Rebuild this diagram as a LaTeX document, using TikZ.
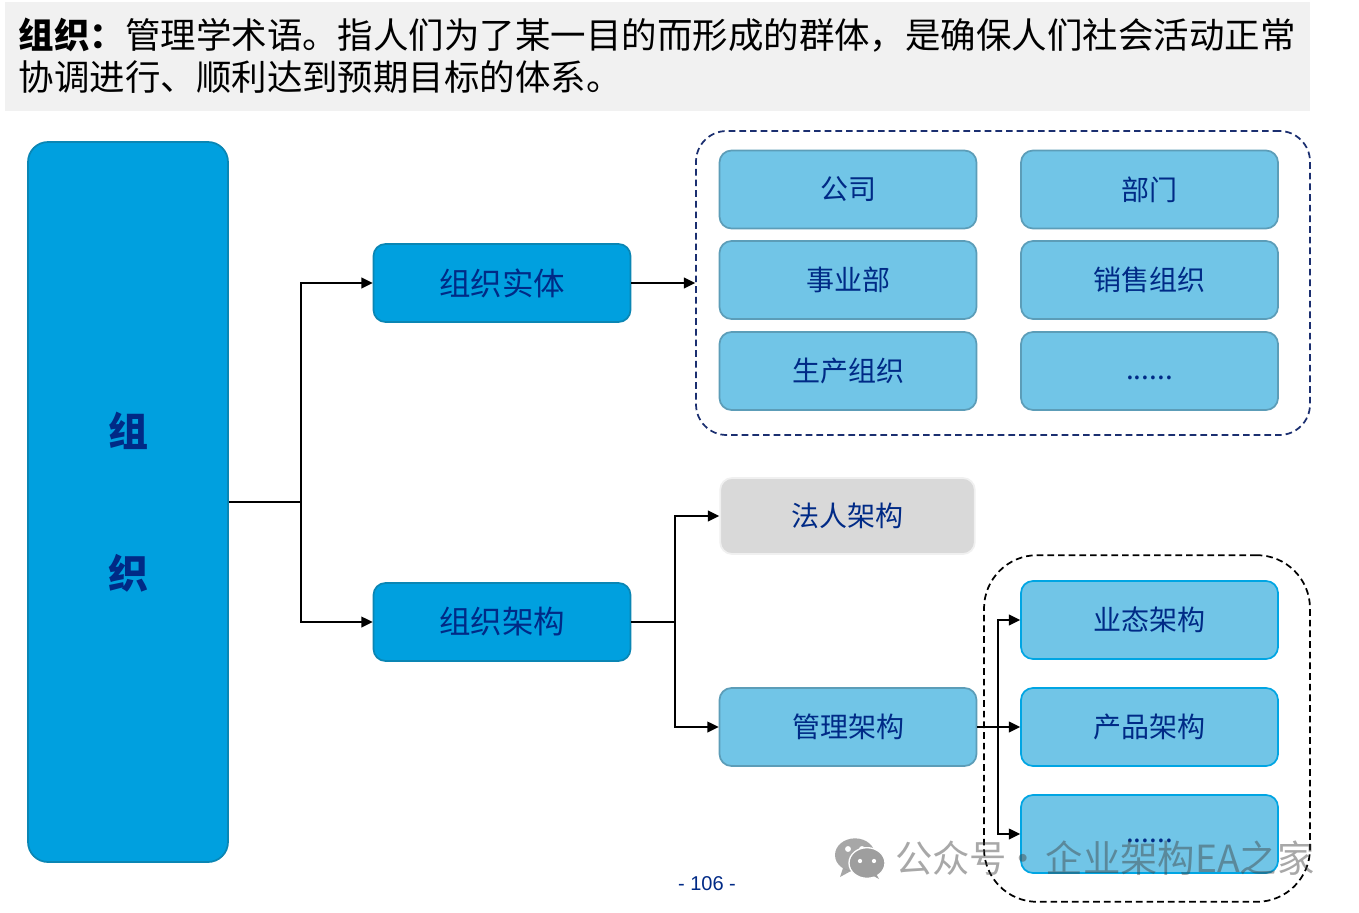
\documentclass[tikz,border=0pt]{standalone}
\usepackage{fontspec}
\setmainfont{Noto Sans CJK SC}
\newfontfamily\latinfont{Liberation Sans}
\usetikzlibrary{arrows.meta}
\definecolor{mainblue}{HTML}{00A0DF}
\definecolor{mainedge}{HTML}{0A86B4}
\definecolor{lightblue}{HTML}{71C5E7}
\definecolor{lightedge}{HTML}{5C9DB8}
\definecolor{brightedge}{HTML}{00A5E3}
\definecolor{navy}{HTML}{002A86}
\definecolor{dashnavy}{HTML}{1B2F70}
\definecolor{barcolor}{HTML}{F1F1F1}
\newcommand{\lowdots}{\smash{\raisebox{-6pt}{......}}}
\tikzset{
  x=0.75pt, y=-0.75pt,
  box/.style={rounded corners=9pt, line width=1.3pt, inner sep=0pt, text=navy, align=center},
  upper/.style={box, fill=mainblue, draw=mainedge, minimum width=192.75pt, minimum height=58.5pt, font=\fontsize{23.6pt}{28pt}\selectfont},
  item/.style={box, fill=lightblue, draw=lightedge, minimum width=192.75pt, minimum height=58.5pt, font=\fontsize{21pt}{25pt}\selectfont},
  brightitem/.style={item, draw=brightedge},
  graybox/.style={item, fill=black!15, draw=black!6, minimum width=191pt, minimum height=57pt},
  conn/.style={line width=1.4pt, draw=black, -{Triangle[length=8.5pt,width=8pt]}},
  plainconn/.style={line width=1.4pt, draw=black},
  groupdash/.style={dash pattern=on 5pt off 3pt, line width=1.3pt, inner sep=0pt},
  titleline/.style={anchor=west, inner sep=0pt, text=black, font=\fontsize{26.6pt}{30pt}\selectfont},
}
\begin{document}
\begin{tikzpicture}
\useasboundingbox[fill=white] (0,0) rectangle (1359,913);

% Heading band
\fill[barcolor] (5,2) rectangle (1310,111);
\node[titleline] (line1) at (18.5,35) {\textbf{组织：}管理学术语。指人们为了某一目的而形成的群体，是确保人们社会活动正常};
\node[titleline] (line2) at (18.5,77) {协调进行、顺利达到预期目标的体系。};

% Root block
\node[box, fill=mainblue, draw=mainedge, rounded corners=15pt, minimum width=150pt, minimum height=540pt] (root) at (128,502) {};
\node[text=navy, inner sep=0pt, font=\fontsize{30pt}{36pt}\selectfont\bfseries] (rootA) at (128,431) {组};
\node[text=navy, inner sep=0pt, font=\fontsize{30pt}{36pt}\selectfont\bfseries] (rootB) at (128,573) {织};

% Second level
\node[upper] (entity) at (502,283) {组织实体};
\node[upper] (struct) at (502,622) {组织架构};

% Entity group
\node[draw=dashnavy, groupdash, rounded corners=23pt, minimum width=460.5pt, minimum height=228pt] (entgroup) at (1003,283) {};
\node[item] (company) at (848,189.5) {公司};
\node[item] (dept) at (1149.5,189.5) {部门};
\node[item] (division) at (848,280) {事业部};
\node[item] (sales) at (1149.5,280) {销售组织};
\node[item] (prod) at (848,371) {生产组织};
\node[item] (more1) at (1149.5,371) {\lowdots};

% Architecture branch
\node[graybox] (legal) at (847.5,516) {法人架构};
\node[item] (mgmt) at (848,727) {管理架构};
\node[draw=black, groupdash, rounded corners=40pt, minimum width=244.5pt, minimum height=260pt] (mgroup) at (1147,728.5) {};
\node[brightitem] (biz) at (1149.5,620) {业态架构};
\node[brightitem] (product) at (1149.5,727) {产品架构};
\node[brightitem] (more2) at (1149.5,834) {\lowdots};

% Connectors
\coordinate (busA) at (301,502);
\coordinate (busB) at (675,622);
\coordinate (busC) at (998,727);
\draw[plainconn] (root.east) -- (busA);
\draw[conn] (busA) |- (entity.west);
\draw[conn] (busA) |- (struct.west);
\draw[conn] (entity.east) -- (entgroup.west);
\draw[plainconn] (struct.east) -- (busB);
\draw[conn] (busB) |- (legal.west);
\draw[conn] (busB) |- (mgmt.west);
\draw[plainconn] (mgmt.east) -- (busC);
\draw[conn] (busC) |- (biz.west);
\draw[conn] (busC) -- (product.west);
\draw[conn] (busC) |- (more2.west);

% Page number
\node[text=navy, inner sep=0pt, font=\latinfont\fontsize{15pt}{18pt}\selectfont] (page) at (707,884) {- 106 -};

% Account mark
\begin{scope}[fill=black!38, fill opacity=0.9]
  \fill (855,855) ellipse [x radius=15pt, y radius=12.5pt];
  \fill (843,868) -- (840,877) -- (851,871) -- cycle;
\end{scope}
\fill[white] (848,849) circle (2.2pt);
\fill[white] (862,849) circle (2.2pt);
\fill[black!38, draw=white, line width=1pt] (867,863) ellipse [x radius=13.5pt, y radius=11.5pt];
\fill[black!38] (874,870) -- (879,879) -- (868,873) -- cycle;
\fill[white] (860,861) circle (1.6pt);
\fill[white] (874,861) circle (1.6pt);
\node[anchor=west, inner sep=0pt, text=black!75, text opacity=0.45, font=\fontsize{28pt}{32pt}\selectfont] (mark) at (895,858) {公众号\hspace{-2pt}·\hspace{3pt}企业架构EA之家};
\end{tikzpicture}
\end{document}
